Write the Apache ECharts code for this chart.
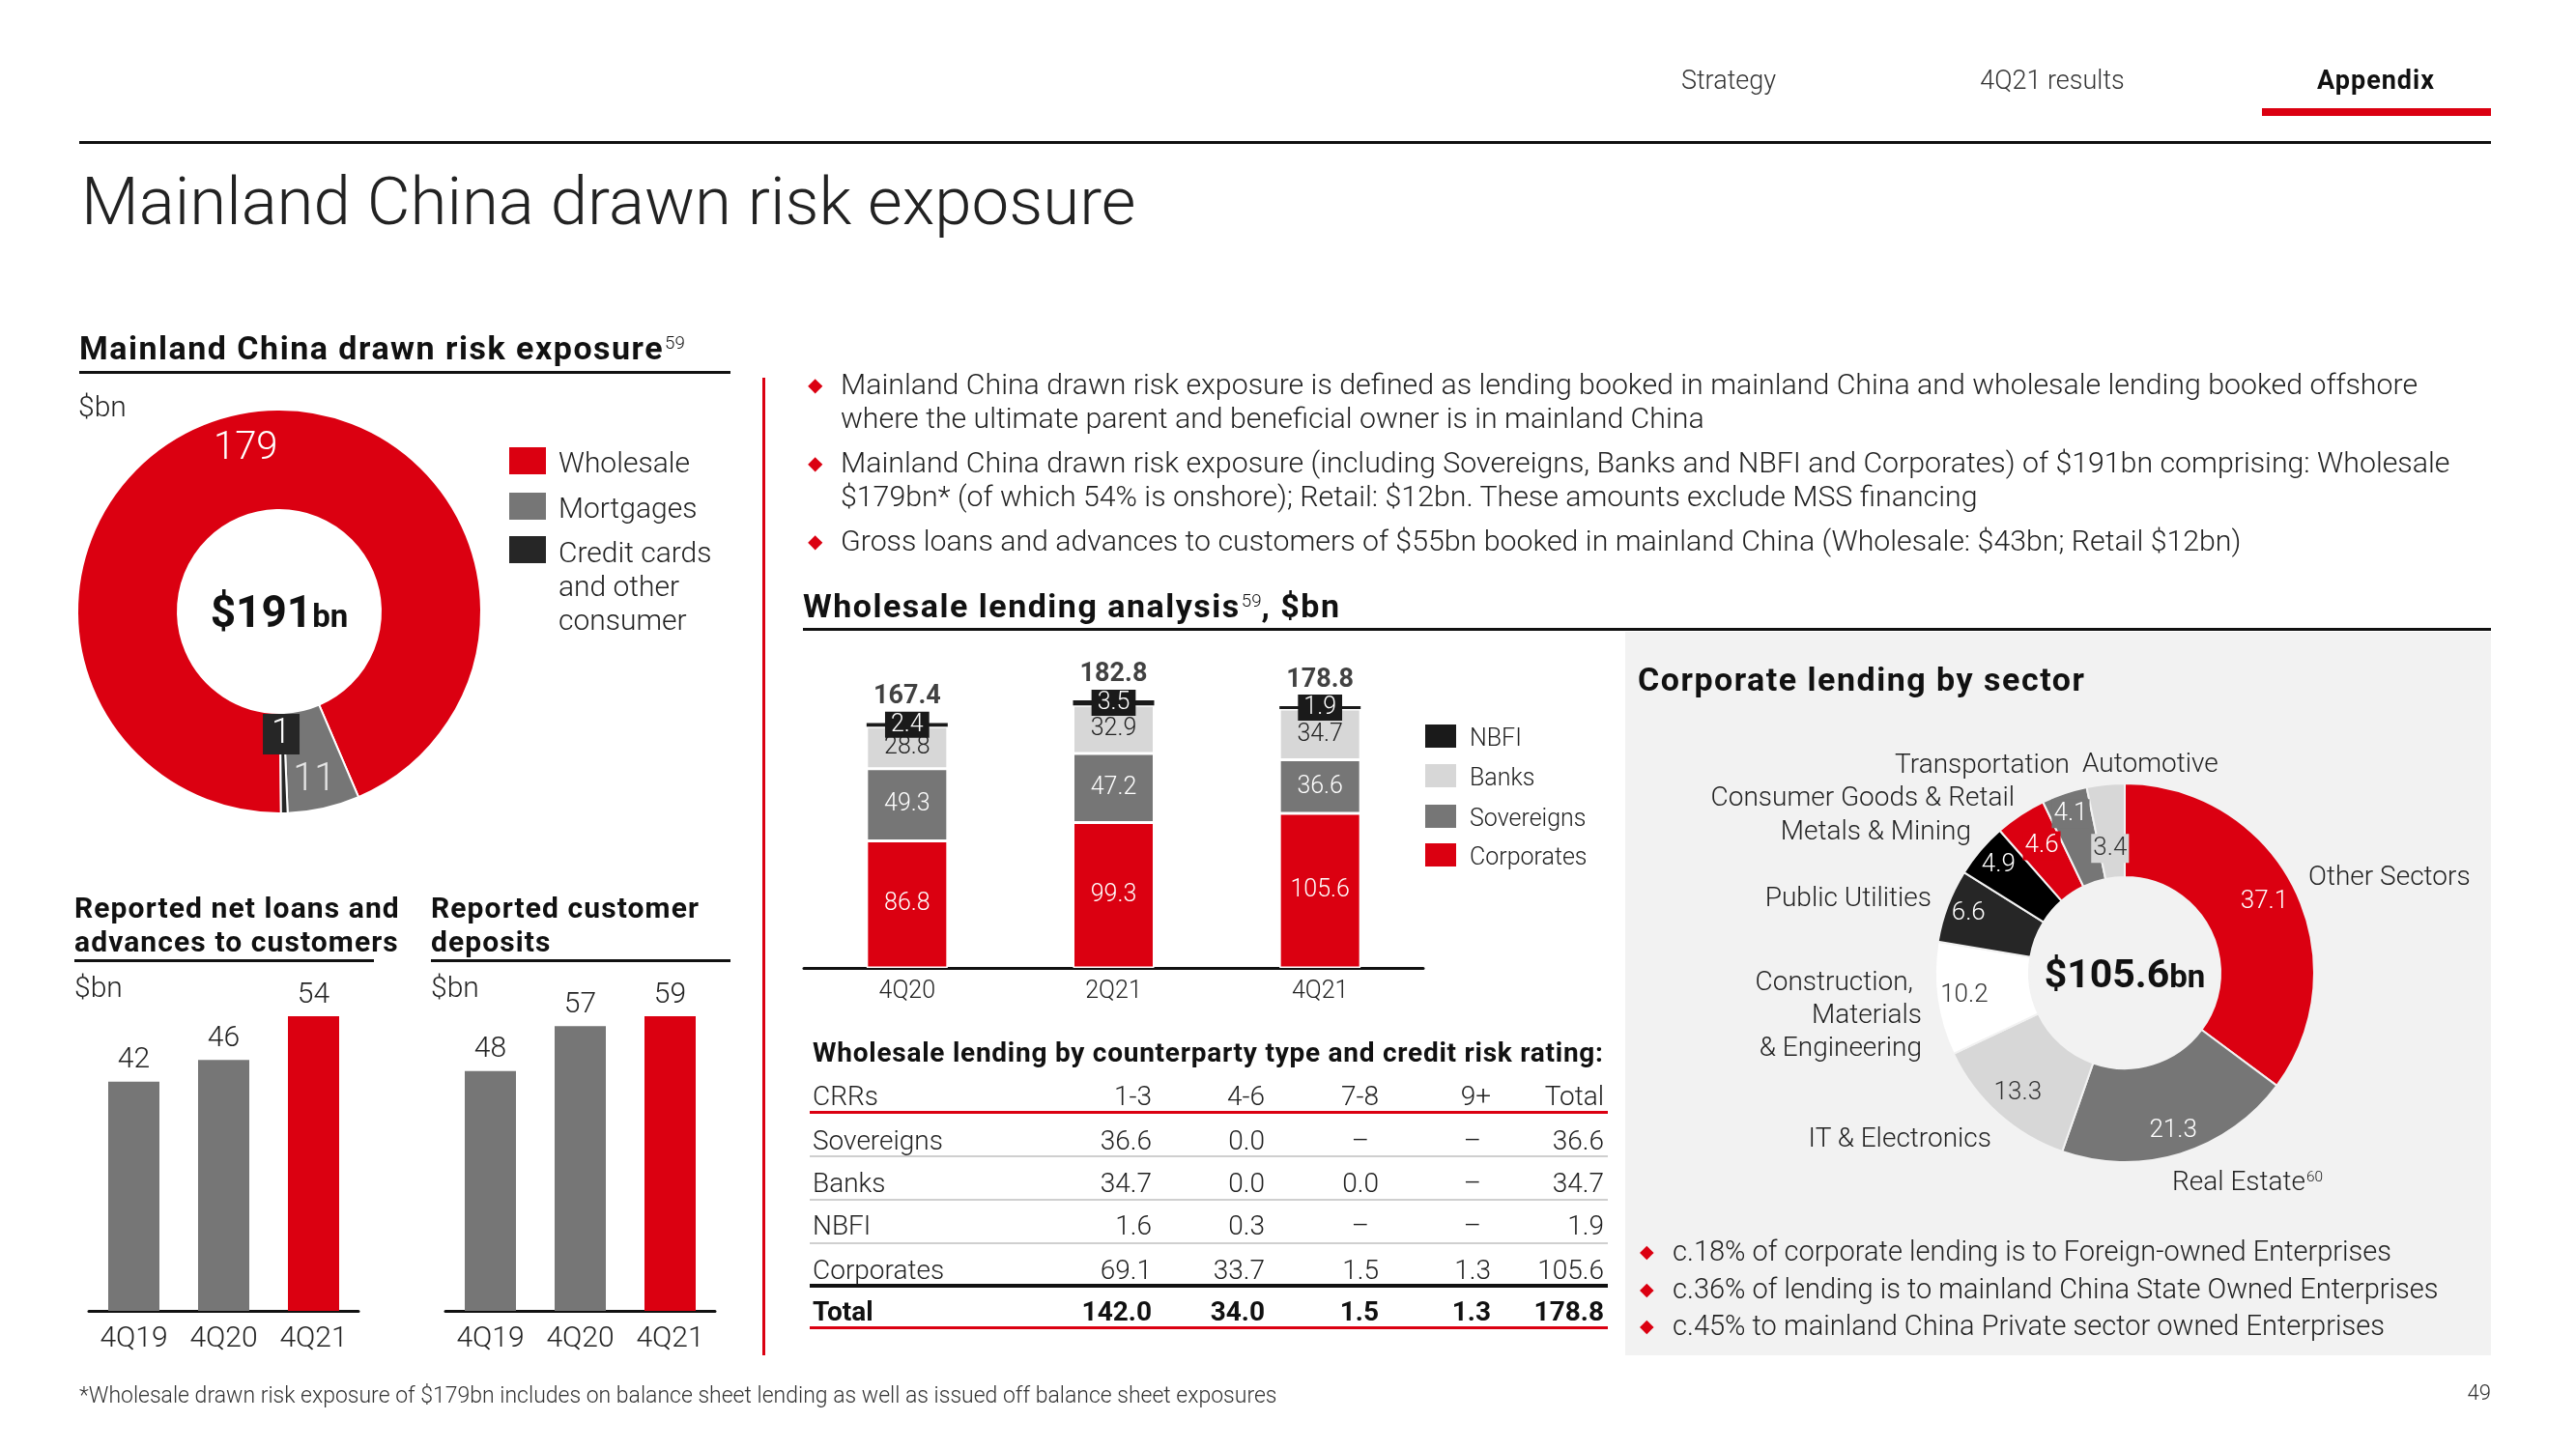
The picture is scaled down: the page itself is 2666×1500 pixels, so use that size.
<!DOCTYPE html>
<html><head><meta charset="utf-8">
<script src="https://cdn.jsdelivr.net/npm/echarts@6/dist/echarts.min.js"></script>
<style>
html,body{margin:0;padding:0;background:#fff;}
#wrap{position:relative;width:2666px;height:1500px;overflow:hidden;font-family:Roboto,"Liberation Sans",Arial,sans-serif;color:#222;}
#chart{position:absolute;left:0;top:0;width:2666px;height:1500px;z-index:1;}
.t{position:absolute;white-space:nowrap;z-index:2;line-height:1;}
.r{position:absolute;}
sup{font-size:55%;vertical-align:0.6em;line-height:0;letter-spacing:0;margin-left:1px;font-weight:300;}
</style></head>
<body><div id="wrap"><div id="chart"></div></div>
<script>
// ---------------- DATA ----------------
const exposureCategories = ['Wholesale', 'Mortgages', 'Credit cards and other consumer'];
const exposureValues = [179, 11, 1];
const exposureTotal = 191;

const loanQuarters = ['4Q19', '4Q20', '4Q21'];
const loanValues = [42, 46, 54];
const depositQuarters = ['4Q19', '4Q20', '4Q21'];
const depositValues = [48, 57, 59];

const wholesalePeriods = ['4Q20', '2Q21', '4Q21'];
const corporatesValues = [86.8, 99.3, 105.6];
const sovereignsValues = [49.3, 47.2, 36.6];
const banksValues = [28.8, 32.9, 34.7];
const nbfiValues = [2.4, 3.5, 1.9];
const wholesaleTotals = [167.4, 182.8, 178.8];

const tableHeader = ['CRRs', '1-3', '4-6', '7-8', '9+', 'Total'];
const tableRowNames = ['Sovereigns', 'Banks', 'NBFI', 'Corporates', 'Total'];
const tableSovereigns = ['36.6', '0.0', '–', '–', '36.6'];
const tableBanks = ['34.7', '0.0', '0.0', '–', '34.7'];
const tableNbfi = ['1.6', '0.3', '–', '–', '1.9'];
const tableCorporates = ['69.1', '33.7', '1.5', '1.3', '105.6'];
const tableTotal = ['142.0', '34.0', '1.5', '1.3', '178.8'];

const sectorNames = ['Other Sectors', 'Real Estate', 'IT & Electronics', 'Construction, Materials & Engineering',
  'Public Utilities', 'Metals & Mining', 'Consumer Goods & Retail', 'Transportation', 'Automotive'];
const sectorValues = [37.1, 21.3, 13.3, 10.2, 6.6, 4.9, 4.6, 4.1, 3.4];
const corporateTotal = 105.6;

// ---------------- STYLE ----------------
const RED = '#db0011', GREY = '#767676', LIGHT = '#d7d7d7', DARK = '#262626', PANEL = '#f2f2f2';
const FONT = 'Roboto, "Liberation Sans", Arial, sans-serif';
const wrap = document.getElementById('wrap');

function txt(x, y, html, o) {
  o = o || {};
  const d = document.createElement('div');
  d.className = 't';
  d.innerHTML = html;
  const s = d.style;
  s.fontSize = (o.size || 28) + 'px';
  s.fontWeight = o.weight || 300;
  s.color = o.color || '#222';
  if (o.ls) s.letterSpacing = o.ls + 'px';
  const a = o.align || 'left';
  const tx = a === 'left' ? '0' : (a === 'right' ? '-100%' : '-50%');
  s.left = x + 'px'; s.top = y + 'px';
  s.transform = 'translate(' + tx + ',-50%)';
  wrap.appendChild(d);
  return d;
}
function rect(x, y, w, h, color, z) {
  const d = document.createElement('div');
  d.className = 'r';
  d.style.cssText = 'left:' + x + 'px;top:' + y + 'px;width:' + w + 'px;height:' + h + 'px;background:' + color + ';z-index:' + (z == null ? 0 : z) + ';';
  wrap.appendChild(d);
}
const H = {size: 34, weight: 700, color: '#111', ls: 1.5};   // section heading style

// ---------------- SLIDE FRAME ----------------
rect(1682, 654, 896, 749, PANEL, 0);          // grey panel
rect(82, 146, 2496, 3, '#111', 2);             // top rule
rect(2341, 112, 237, 8, RED, 2);               // nav marker
txt(1789, 83, 'Strategy', {size: 27, align: 'center', color: '#333'});
txt(2124, 83, '4Q21 results', {size: 27, align: 'center', color: '#333'});
txt(2459, 83, 'Appendix', {size: 27, align: 'center', weight: 700, color: '#111', ls: 1});
txt(84, 208, 'Mainland China drawn risk exposure', {size: 69, weight: 300, color: '#222'});

// left heading
txt(82, 360, 'Mainland China drawn risk exposure<sup>59</sup>', H);
rect(82, 384, 674, 3, '#111', 2);
txt(81, 421, '$bn', {size: 30});

// left donut legend
const legendColors1 = [RED, GREY, DARK];
[477, 524, 569].forEach((cy, i) => rect(527, cy - 14, 38, 28, legendColors1[i], 2));
txt(578, 479, exposureCategories[0], {size: 30});
txt(578, 526, exposureCategories[1], {size: 30});
txt(578, 572, 'Credit cards', {size: 30});
txt(578, 607, 'and other', {size: 30});
txt(578, 642, 'consumer', {size: 30});
txt(289, 633, '$' + exposureTotal + '<span style="font-size:33px">bn</span>', {size: 46, weight: 700, align: 'center', color: '#111'});

// small bar chart titles
const H2 = {size: 30, weight: 700, color: '#111', ls: 1.1};
txt(77, 940, 'Reported net loans and', H2);
txt(77, 975, 'advances to customers', H2);
rect(77, 993, 310, 3, '#111', 2);
txt(446, 940, 'Reported customer', H2);
txt(446, 975, 'deposits', H2);
rect(446, 993, 310, 3, '#111', 2);
txt(77, 1022, '$bn', {size: 30});
txt(446, 1022, '$bn', {size: 30});

// red separator
rect(789, 391, 3, 1012, RED, 2);

// bullets top
function bullet(x, y, size) { txt(x, y, '&#9670;', {size: size, color: RED, weight: 400}); }
const bx = 870, BS = 30.3;
bullet(836, 398, 20);
txt(bx, 398, 'Mainland China drawn risk exposure is defined as lending booked in mainland China and wholesale lending booked offshore', {size: BS});
txt(bx, 433, 'where the ultimate parent and beneficial owner is in mainland China', {size: BS});
bullet(836, 479, 20);
txt(bx, 479, 'Mainland China drawn risk exposure (including Sovereigns, Banks and NBFI and Corporates) of $191bn comprising: Wholesale', {size: BS});
txt(bx, 514, '$179bn* (of which 54% is onshore); Retail: $12bn. These amounts exclude MSS financing', {size: BS});
bullet(836, 560, 20);
txt(bx, 560, 'Gross loans and advances to customers of $55bn booked in mainland China (Wholesale: $43bn; Retail $12bn)', {size: BS});

txt(831, 627, 'Wholesale lending analysis<sup>59</sup>, $bn', H);
rect(831, 650, 1747, 3, '#111', 2);

// stacked legend
const stackLegend = [['NBFI', '#1a1a1a'], ['Banks', LIGHT], ['Sovereigns', GREY], ['Corporates', RED]];
[762, 803, 845, 885].forEach((cy, i) => {
  rect(1475, cy - 12, 32, 24, stackLegend[i][1], 2);
  txt(1521, cy + 1, stackLegend[i][0], {size: 25});
});

// table
txt(841, 1090, 'Wholesale lending by counterparty type and credit risk rating:', {size: 28, weight: 700, color: '#111', ls: 0.75});
const colRight = [1192, 1309, 1427, 1543, 1660];
const rowY = [1181, 1225, 1269, 1315, 1358];
const tableData = [tableSovereigns, tableBanks, tableNbfi, tableCorporates, tableTotal];
txt(841, 1135, tableHeader[0], {size: 28});
tableHeader.slice(1).forEach((h, j) => txt(colRight[j], 1135, h, {size: 28, align: 'right'}));
tableRowNames.forEach((n, i) => {
  const bold = i === tableRowNames.length - 1;
  const w = bold ? 700 : 300;
  txt(841, rowY[i], n, {size: 28, weight: w, color: bold ? '#111' : '#222'});
  tableData[i].forEach((v, j) => txt(colRight[j] - (v === '–' ? 10 : 0), rowY[i], v, {size: 28, weight: w, align: 'right', color: bold ? '#111' : '#222'}));
});
rect(838, 1150, 826, 3, RED, 2);
[1196, 1241, 1286].forEach(y => rect(838, y, 826, 2, '#cfcfcf', 2));
rect(838, 1329, 826, 4, '#111', 2);
rect(838, 1373, 826, 3, RED, 2);

// corporate lending panel
txt(1695, 703, 'Corporate lending by sector', H);
txt(2142, 791, 'Transportation', {size: 28, align: 'right'});
txt(2155, 790, 'Automotive', {size: 28});
txt(2085, 825, 'Consumer Goods &amp; Retail', {size: 28, align: 'right'});
txt(2040, 860, 'Metals &amp; Mining', {size: 28, align: 'right'});
txt(1999, 929, 'Public Utilities', {size: 28, align: 'right'});
txt(1980, 1016, 'Construction,', {size: 28, align: 'right'});
txt(1989, 1050, 'Materials', {size: 28, align: 'right'});
txt(1989, 1084, '&amp; Engineering', {size: 28, align: 'right'});
txt(2061, 1178, 'IT &amp; Electronics', {size: 28, align: 'right'});
txt(2248, 1223, 'Real Estate<sup>60</sup>', {size: 28});
txt(2389, 907, 'Other Sectors', {size: 28});
txt(2199, 1008, '$' + corporateTotal.toFixed(1) + '<span style="font-size:33px">bn</span>', {size: 41, weight: 700, align: 'center', color: '#111'});

bullet(1697, 1295, 19);
txt(1731, 1295, 'c.18% of corporate lending is to Foreign-owned Enterprises', {size: 29});
bullet(1697, 1334, 19);
txt(1731, 1334, 'c.36% of lending is to mainland China State Owned Enterprises', {size: 29});
bullet(1697, 1372, 19);
txt(1731, 1372, 'c.45% to mainland China Private sector owned Enterprises', {size: 29});

// footer
txt(82, 1444, '*Wholesale drawn risk exposure of $179bn includes on balance sheet lending as well as issued off balance sheet exposures', {size: 23, color: '#333'});
txt(2578, 1442, '49', {size: 22, align: 'right', color: '#333'});

// ---------------- CHART ----------------
const chart = echarts.init(document.getElementById('chart'), null, {renderer: 'canvas', width: 2666, height: 1500});

const exposureColors = [RED, GREY, DARK];
const exposureLabelStyles = [
  {color: '#fff', fontSize: 40, fontWeight: 300, offset: [-2, -11]},
  {color: '#e4e4e4', fontSize: 40, fontWeight: 300, offset: [1, 19]},
  {color: '#fff', fontSize: 36, fontWeight: 300, backgroundColor: DARK, padding: [4, 9, 2, 9], offset: [-2, -33]}
];
const sectorColors = [RED, GREY, LIGHT, '#ffffff', DARK, '#000000', RED, GREY, LIGHT];
const sectorLabelStyles = [
  {color: '#fff', offset: [10, -6]},
  {color: '#fff', offset: [6, 20]},
  {color: '#333', offset: [-10, 13]},
  {color: '#333', offset: [-17, 3]},
  {color: '#fff', offset: [-21, -8]},
  {color: '#fff', offset: [-16, -14]},
  {color: '#fff', offset: [-3, -6], backgroundColor: RED, padding: [3, 2, 1, 2]},
  {color: '#fff', offset: [-8, -22], backgroundColor: GREY, padding: [3, 2, 1, 2]},
  {color: '#333', offset: [0, 21], backgroundColor: LIGHT, padding: [3, 2, 1, 2]}
];

const catAxis = (grid, data, size, margin) => ({
  gridIndex: grid, type: 'category', data: data,
  axisLine: {lineStyle: {color: '#111', width: 3}},
  axisTick: {show: false},
  axisLabel: {fontSize: size, color: '#222', fontWeight: 300, margin: margin, fontFamily: FONT}
});
const valAxis = (grid, max) => ({gridIndex: grid, type: 'value', min: 0, max: max, show: false, splitLine: {show: false}});

const lastRed = arr => (p => p.dataIndex === arr.length - 1 ? RED : GREY);
const barLabel = {show: true, position: 'top', distance: 7, fontSize: 30, fontWeight: 300, color: '#222', fontFamily: FONT};
const segLabel = (color, extra) => Object.assign({show: true, position: 'inside', fontSize: 25, fontWeight: 300, color: color, fontFamily: FONT,
  formatter: p => p.value.toFixed(1)}, extra || {});

const option = {
  animation: false,
  textStyle: {fontFamily: FONT},
  grid: [
    {left: 92, top: 1052, width: 279, height: 305},
    {left: 461, top: 1052, width: 279, height: 305},
    {left: 832, top: 699, width: 641, height: 303}
  ],
  xAxis: [
    catAxis(0, loanQuarters, 30, 14),
    catAxis(1, depositQuarters, 30, 14),
    catAxis(2, wholesalePeriods, 25, 12)
  ],
  yAxis: [valAxis(0, 54), valAxis(1, 59), valAxis(2, 200)],
  series: [
    {type: 'pie', silent: true, center: [289, 633], radius: [105, 209], startAngle: -89.5, clockwise: true,
      avoidLabelOverlap: false, labelLine: {show: false},
      itemStyle: {borderColor: '#fff', borderWidth: 2},
      label: {show: true, position: 'inside', formatter: '{c}', fontFamily: FONT},
      data: exposureCategories.map((n, i) => ({name: n, value: exposureValues[i],
        itemStyle: {color: exposureColors[i]}, label: exposureLabelStyles[i]}))},

    {type: 'bar', silent: true, xAxisIndex: 0, yAxisIndex: 0, data: loanValues, barWidth: 53,
      itemStyle: {color: lastRed(loanValues)}, label: barLabel},
    {type: 'bar', silent: true, xAxisIndex: 1, yAxisIndex: 1, data: depositValues, barWidth: 53,
      itemStyle: {color: lastRed(depositValues)}, label: barLabel},

    {name: 'Corporates', type: 'bar', silent: true, stack: 'w', xAxisIndex: 2, yAxisIndex: 2, data: corporatesValues, barWidth: 84,
      itemStyle: {color: RED, borderColor: '#fff', borderWidth: 1.5}, label: segLabel('#fff')},
    {name: 'Sovereigns', type: 'bar', silent: true, stack: 'w', xAxisIndex: 2, yAxisIndex: 2, data: sovereignsValues, barWidth: 84,
      itemStyle: {color: GREY, borderColor: '#fff', borderWidth: 1.5}, label: segLabel('#fff')},
    {name: 'Banks', type: 'bar', silent: true, stack: 'w', xAxisIndex: 2, yAxisIndex: 2, data: banksValues, barWidth: 84,
      itemStyle: {color: LIGHT, borderColor: '#fff', borderWidth: 1.5}, label: segLabel('#222')},
    {name: 'NBFI', type: 'bar', silent: true, stack: 'w', xAxisIndex: 2, yAxisIndex: 2, data: nbfiValues, barWidth: 84,
      itemStyle: {color: '#1a1a1a'}, label: segLabel('#fff', {backgroundColor: '#1a1a1a', padding: [2, 6, 0, 6]})},
    {name: 'Total', type: 'scatter', silent: true, xAxisIndex: 2, yAxisIndex: 2, data: wholesaleTotals, symbolSize: 1,
      itemStyle: {color: 'rgba(0,0,0,0)'},
      label: {show: true, position: 'top', distance: 13, fontSize: 27, fontWeight: 'bold', color: '#111', fontFamily: FONT,
        formatter: p => p.value.toFixed(1)}},

    {type: 'pie', silent: true, center: [2199, 1007], radius: [99, 196], startAngle: 90, clockwise: true,
      avoidLabelOverlap: false, labelLine: {show: false},
      itemStyle: {borderColor: PANEL, borderWidth: 2},
      label: {show: true, position: 'inside', fontSize: 26, fontWeight: 300, fontFamily: FONT, formatter: p => p.value.toFixed(1)},
      data: sectorNames.map((n, i) => ({name: n, value: sectorValues[i],
        itemStyle: {color: sectorColors[i]}, label: sectorLabelStyles[i]}))}
  ]
};
chart.setOption(option);
</script>
</body></html>
